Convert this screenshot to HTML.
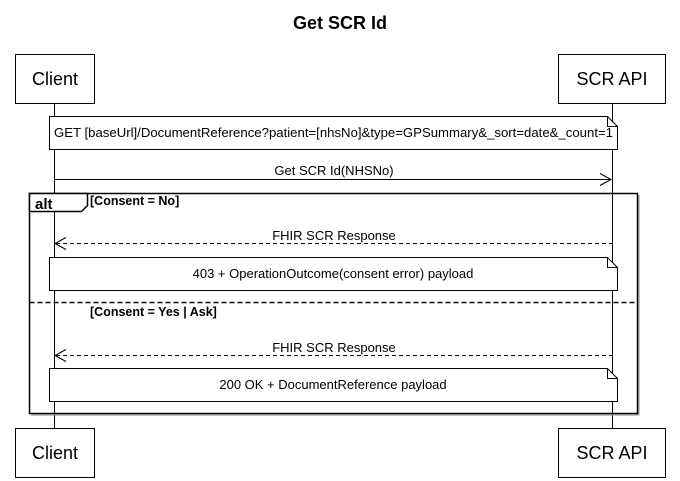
<!DOCTYPE html>
<html><head><meta charset="utf-8"><style>
html,body{margin:0;padding:0;background:#fff;}
svg{display:block;}
text{font-family:"Liberation Sans",sans-serif;fill:#000;}
</style></head><body>
<svg width="680" height="481" viewBox="0 0 680 481" xmlns="http://www.w3.org/2000/svg">
<rect width="680" height="481" fill="#fff"/>
<text x="340" y="29" font-size="18" font-weight="bold" text-anchor="middle">Get SCR Id</text>
<line x1="54.5" y1="103" x2="54.5" y2="428" stroke="#000" stroke-width="1"/>
<line x1="612.5" y1="103" x2="612.5" y2="428" stroke="#000" stroke-width="1"/>
<rect x="15.5" y="54.5" width="79" height="49" fill="#fff" stroke="#000"/>
<text x="55" y="85" font-size="18" text-anchor="middle">Client</text>
<rect x="558.5" y="54.5" width="107" height="49" fill="#fff" stroke="#000"/>
<text x="612" y="85" font-size="18" text-anchor="middle">SCR API</text>
<rect x="15.5" y="428.5" width="79" height="49" fill="#fff" stroke="#000"/>
<text x="55" y="459" font-size="18" text-anchor="middle">Client</text>
<rect x="558.5" y="428.5" width="107" height="49" fill="#fff" stroke="#000"/>
<text x="612" y="459" font-size="18" text-anchor="middle">SCR API</text>
<path d="M49.5,116.5 H607.5 L617.5,126.5 V149.5 H49.5 Z" fill="#fff" stroke="#000"/>
<path d="M607.5,116.5 V126.5 H617.5" fill="none" stroke="#000"/>
<text x="54" y="137" font-size="13" textLength="559" lengthAdjust="spacingAndGlyphs">GET [baseUrl]/DocumentReference?patient=[nhsNo]&amp;type=GPSummary&amp;_sort=date&amp;_count=1</text>
<text x="334" y="175" font-size="13" text-anchor="middle">Get SCR Id(NHSNo)</text>
<line x1="55" y1="179.5" x2="611" y2="179.5" stroke="#000"/>
<path d="M600,173.5 L611,179.5 L600,185.5" fill="none" stroke="#000"/>
<rect x="29.5" y="193.5" width="608" height="220" fill="none" stroke="#000" stroke-width="1.5"/>
<line x1="31" y1="415" x2="639" y2="415" stroke="#888" stroke-width="1"/>
<line x1="639" y1="195" x2="639" y2="415" stroke="#888" stroke-width="1"/>
<path d="M29.5,211.5 H81.5 L87.5,205.5 V193.5 H29.5 Z" fill="#fff" stroke="#000" stroke-width="1.5"/>
<text x="35" y="209" font-size="15" font-weight="bold">alt</text>
<text x="90" y="205" font-size="12.5" font-weight="bold">[Consent = No]</text>
<text x="334" y="240" font-size="13" text-anchor="middle">FHIR SCR Response</text>
<line x1="56" y1="243.5" x2="612" y2="243.5" stroke="#000" stroke-dasharray="4,3"/>
<path d="M66,237.5 L55,243.5 L66,249.5" fill="none" stroke="#000"/>
<path d="M49.5,257.5 H607.5 L617.5,267.5 V290.5 H49.5 Z" fill="#fff" stroke="#000"/>
<path d="M607.5,257.5 V267.5 H617.5" fill="none" stroke="#000"/>
<text x="333" y="278" font-size="13" text-anchor="middle">403 + OperationOutcome(consent error) payload</text>
<line x1="29.5" y1="302.5" x2="637.5" y2="302.5" stroke="#000" stroke-width="1.5" stroke-dasharray="5,3"/>
<text x="90" y="316" font-size="12.5" font-weight="bold">[Consent = Yes | Ask]</text>
<text x="334" y="352" font-size="13" text-anchor="middle">FHIR SCR Response</text>
<line x1="56" y1="355.5" x2="612" y2="355.5" stroke="#000" stroke-dasharray="4,3"/>
<path d="M66,349.5 L55,355.5 L66,361.5" fill="none" stroke="#000"/>
<path d="M49.5,368.5 H607.5 L617.5,378.5 V401.5 H49.5 Z" fill="#fff" stroke="#000"/>
<path d="M607.5,368.5 V378.5 H617.5" fill="none" stroke="#000"/>
<text x="333" y="389" font-size="13" text-anchor="middle">200 OK + DocumentReference payload</text>
</svg>
</body></html>
